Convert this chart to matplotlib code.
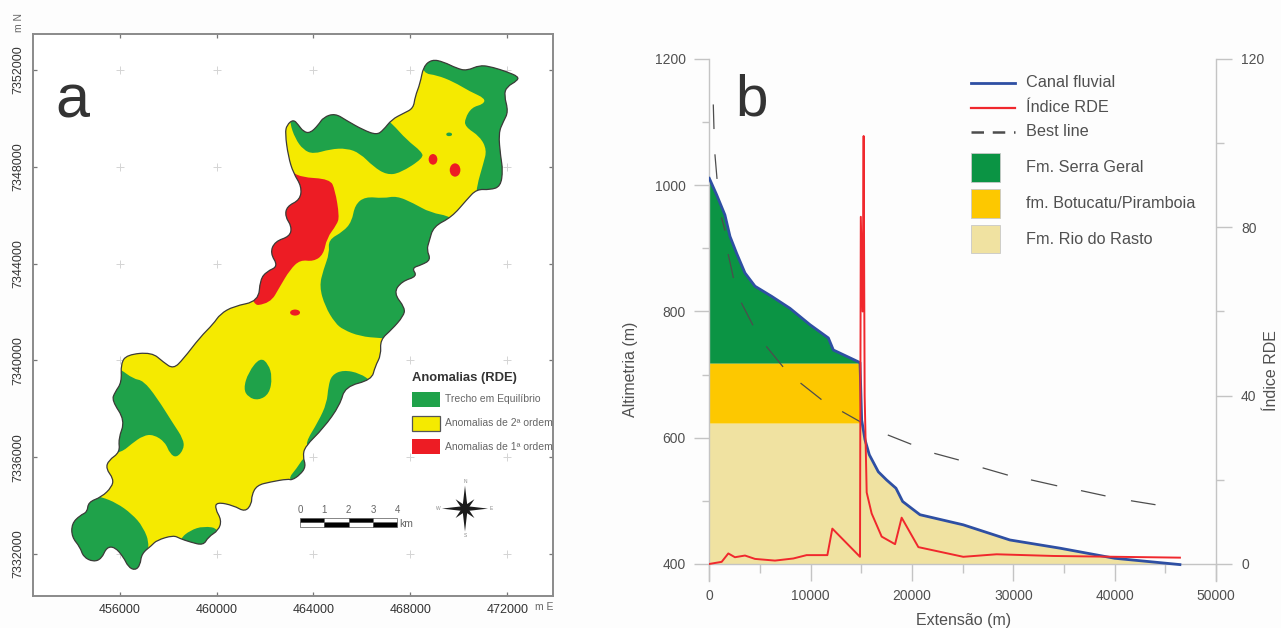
#!/usr/bin/env python3
"""Map of RDE anomalies (a) and longitudinal river profile with RDE index (b)."""

import numpy as np
import matplotlib
matplotlib.use('Agg')
import matplotlib.pyplot as plt
from matplotlib.patches import Ellipse, PathPatch, Rectangle
from matplotlib.path import Path

plt.rcParams['font.family'] = ['Liberation Sans', 'DejaVu Sans']

# ---- panel a, map coordinates in km (easting, northing)
east_ticks = [456, 460, 464, 468, 472]
north_ticks = [7332, 7336, 7340, 7344, 7348, 7352]

basin = [
  (462.90, 7349.73), (463.17, 7349.96), (463.38, 7349.73), (463.58, 7349.46), (463.86, 7349.39),
  (464.20, 7349.73), (464.41, 7350.05), (464.89, 7350.21), (465.37, 7349.91), (466.06, 7349.52),
  (466.61, 7349.32), (466.88, 7349.52), (467.23, 7349.96), (467.71, 7350.21), (468.12, 7350.42),
  (468.19, 7350.90), (468.40, 7351.45), (468.53, 7352.14), (468.88, 7352.44), (469.36, 7352.34),
  (469.91, 7352.07), (470.32, 7351.97), (470.87, 7352.21), (471.42, 7352.11), (471.97, 7351.93),
  (472.45, 7351.73), (472.41, 7351.56), (471.97, 7351.31), (471.86, 7350.97), (472.04, 7350.28),
  (471.83, 7349.87), (471.63, 7349.39), (471.72, 7348.42), (471.81, 7347.87), (471.72, 7347.19),
  (471.28, 7347.05), (470.73, 7347.08), (470.32, 7346.64), (469.70, 7345.92), (468.95, 7345.54),
  (468.77, 7344.92), (468.67, 7344.57), (468.84, 7344.16), (468.46, 7343.95), (468.05, 7343.82),
  (468.29, 7343.48), (467.64, 7343.27), (467.30, 7342.79), (467.78, 7342.17), (467.71, 7341.83),
  (467.23, 7341.28), (466.75, 7340.85), (466.79, 7340.23), (466.54, 7339.75), (466.40, 7339.20),
  (465.30, 7338.92), (465.10, 7338.17), (464.41, 7337.20), (463.65, 7336.45), (463.56, 7336.03),
  (463.69, 7335.62), (463.45, 7335.28), (463.10, 7335.05), (462.96, 7335.11), (462.21, 7334.98),
  (461.66, 7334.84), (461.45, 7334.43), (461.45, 7334.08), (461.18, 7333.74), (460.70, 7334.01),
  (460.01, 7334.15), (459.94, 7333.88), (460.21, 7333.40), (460.08, 7332.98), (459.66, 7332.71),
  (459.46, 7332.36), (458.91, 7332.50), (458.50, 7332.64), (458.22, 7332.78), (457.53, 7332.57),
  (457.33, 7332.36), (456.91, 7332.02), (456.85, 7331.54), (456.64, 7331.33), (456.36, 7331.47),
  (456.16, 7331.88), (455.81, 7332.29), (455.47, 7332.29), (455.26, 7331.81), (454.92, 7331.68),
  (454.51, 7331.88), (454.37, 7332.29), (454.03, 7332.71), (454.03, 7333.26), (454.37, 7333.60),
  (454.67, 7333.74), (454.71, 7334.15), (455.26, 7334.36), (455.68, 7334.77), (455.75, 7335.11),
  (455.44, 7335.53), (455.54, 7335.87), (456.02, 7336.21), (455.95, 7336.76), (456.23, 7337.52),
  (455.68, 7338.35), (455.81, 7338.69), (456.09, 7339.10), (456.05, 7339.86), (456.30, 7340.24),
  (457.33, 7340.34), (457.81, 7339.93), (458.22, 7339.65), (458.63, 7340.06), (459.32, 7340.96),
  (459.87, 7341.51), (460.15, 7341.92), (460.70, 7342.24), (461.73, 7342.45), (461.80, 7343.34),
  (462.07, 7343.68), (462.55, 7343.89), (462.21, 7344.44), (462.41, 7344.92), (463.03, 7345.13),
  (463.10, 7345.54), (462.83, 7345.95), (462.90, 7346.37), (463.45, 7346.64), (463.51, 7347.19),
  (463.17, 7347.74), (462.96, 7348.43), (462.83, 7349.39),
]

green_north_arm = [
  (463.03, 7349.80), (463.24, 7349.18), (463.58, 7348.70), (464.00, 7348.53), (464.68, 7348.73),
  (465.37, 7348.77), (465.92, 7348.56), (466.47, 7348.01), (467.02, 7347.67), (467.57, 7347.74),
  (468.53, 7348.36), (468.46, 7348.63), (467.85, 7349.11), (467.23, 7349.80), (466.88, 7350.07),
  (464.41, 7350.49), (463.03, 7350.21),
]
green_head = [
  (468.53, 7351.86), (469.08, 7351.79), (469.77, 7351.52), (470.46, 7351.11), (471.08, 7350.83),
  (471.01, 7350.59), (470.53, 7350.46), (470.25, 7350.00), (470.25, 7349.66), (470.87, 7349.25),
  (471.15, 7348.70), (471.01, 7348.15), (470.73, 7347.18), (470.73, 7346.77), (472.24, 7346.77),
  (472.79, 7349.52), (472.79, 7352.27), (468.81, 7352.82), (468.40, 7352.55),
]
green_central = [
  (465.71, 7346.43), (466.13, 7346.77), (466.88, 7346.70), (467.43, 7346.80), (468.12, 7346.50),
  (468.81, 7346.11), (469.70, 7345.95), (470.05, 7345.40), (469.77, 7342.65), (468.12, 7340.86),
  (466.75, 7340.92), (465.92, 7341.00), (465.23, 7341.27), (464.89, 7341.55), (464.48, 7342.23),
  (464.24, 7343.06), (464.41, 7343.75), (464.66, 7344.44), (464.61, 7344.98), (465.23, 7345.33),
  (465.58, 7345.74),
]
green_east = [
  (466.40, 7339.13), (465.92, 7339.47), (465.23, 7339.61), (464.75, 7339.40), (464.61, 7338.92),
  (464.55, 7338.24), (464.20, 7337.48), (463.65, 7336.58), (463.86, 7336.31), (465.65, 7338.10),
  (466.61, 7338.92),
]
green_east_small = [
  (463.58, 7335.97), (463.31, 7335.55), (462.92, 7335.07), (463.45, 7334.87), (464.00, 7335.62),
  (463.79, 7336.10),
]
green_west = [
  (456.02, 7339.65), (456.57, 7339.24), (456.98, 7339.17), (457.53, 7338.48), (458.22, 7337.38),
  (458.63, 7336.76), (458.66, 7336.35), (458.36, 7335.98), (458.08, 7336.14), (457.88, 7336.63),
  (457.40, 7336.94), (456.98, 7336.90), (456.50, 7336.56), (456.09, 7336.21), (455.20, 7336.01),
  (455.20, 7339.17), (455.75, 7339.72),
]
green_mouth = [
  (455.26, 7334.36), (455.88, 7334.11), (456.50, 7333.67), (456.98, 7333.12), (457.26, 7332.36),
  (456.98, 7331.06), (453.82, 7331.06), (453.68, 7333.67), (454.64, 7334.49),
]
green_south = [
  (458.50, 7332.64), (458.91, 7332.98), (459.46, 7333.16), (460.15, 7333.05), (460.01, 7332.16),
  (458.50, 7332.16),
]
green_island = [
  (461.80, 7340.13), (462.14, 7339.86), (462.30, 7339.31), (462.18, 7338.62), (461.73, 7338.35),
  (461.31, 7338.48), (461.11, 7338.83), (461.31, 7339.51),
]
green_tiny = [(469.43, 7349.34), (469.59, 7349.45), (469.77, 7349.34), (469.59, 7349.24)]
green_areas = [green_north_arm, green_head, green_central, green_east, green_east_small,
               green_west, green_mouth, green_south, green_island, green_tiny]

red_main = [
  (463.03, 7347.87), (463.45, 7347.57), (464.68, 7347.50), (464.89, 7347.05), (465.07, 7345.95),
  (464.96, 7345.61), (464.55, 7345.06), (464.41, 7344.37), (464.00, 7344.09), (463.45, 7344.16),
  (463.03, 7343.75), (462.62, 7343.06), (462.21, 7342.35), (461.25, 7342.24), (461.25, 7348.02),
  (462.90, 7348.29),
]
red_spot_e = [468.93, 469.84, 463.24]
red_spot_n = [7348.31, 7347.87, 7341.98]
red_spot_w = [0.36, 0.44, 0.41]
red_spot_h = [0.44, 0.55, 0.25]

scale_km = [0, 1, 2, 3, 4]

map_legend_labels = ['Trecho em Equilíbrio', 'Anomalias de 2ª ordem', 'Anomalias de 1ª ordem']

# ---- panel b
canal_x = [0, 720, 1540, 2040, 2700, 3520, 4510, 6150, 7960, 9940, 11750, 12240, 14870, 15035,
           15360, 15790, 16680, 17500, 18420, 19080, 19970, 20790, 25060, 29660, 34600, 40000, 46440]
canal_y = [1011, 985, 953, 919, 892, 861, 840, 824, 805, 779, 758, 739, 719, 628,
           597, 573, 546, 533, 520, 499, 488, 478, 462, 438, 425, 409, 399]

rde_x = [0, 1220, 1875, 2530, 3520, 4510, 6480, 8290, 9600, 11650, 12140, 14870, 14950, 15130,
         15230, 15330, 15530, 16020, 17010, 18330, 18980, 20630, 25060, 28350, 33940, 46440]
rde_y = [0, 0.5, 2.5, 1.6, 2, 1.2, 0.8, 1.3, 2.1, 2.1, 8.4, 1.7, 82.5, 60,
         101.7, 40, 17, 12, 6.5, 4.7, 11, 4, 1.7, 2.3, 1.9, 1.5]

# visible dashes of the best line, nan marks a gap
best_x = [395, 460, np.nan, 560, 757, np.nan, 1217, 1540, np.nan, 1875, 2370, np.nan, 3190, 4280, np.nan,
          5660, 7240, np.nan, 9050, 11020, np.nan, 13160, 15035, np.nan, 17670, 19870, np.nan,
          22260, 24560, np.nan, 27030, 29400, np.nan, 31800, 34270, np.nan, 36740, 39040, np.nan, 41670, 43970]
best_y = [1127, 1090, np.nan, 1048, 1011, np.nan, 948, 929, np.nan, 890, 854, np.nan, 813, 779, np.nan,
          744, 713, np.nan, 686, 661, np.nan, 641, 624, np.nan, 604, 590, np.nan,
          575, 565, np.nan, 552, 541, np.nan, 533, 524, np.nan, 516, 508, np.nan, 500, 494]

serra_geral_base = 718
botucatu_base = 623
profile_base = 400

GREEN_MAP = '#1fa24a'
YELLOW_MAP = '#f5ea00'
RED_MAP = '#ed1c24'
GREEN_GEO = '#0b9444'
ORANGE_GEO = '#fdc800'
TAN_GEO = '#f0e2a1'
BLUE = '#2e4fa3'
RED = '#f0282d'
TEXT = '#505050'
AXIS = '#c4c4c4'

W, H = 1281, 628


def fx(px):
  return px / W


def fy(py):
  return 1 - py / H


def smooth_path(points):
  # closed quadratic curve through the midpoints, map outlines are rounded
  pts = np.array(points)
  mids = (pts + np.roll(pts, -1, axis=0)) / 2
  verts = [mids[-1]]
  codes = [Path.MOVETO]
  for p, m in zip(pts, mids):
    verts += [p, m]
    codes += [Path.CURVE3, Path.CURVE3]
  return Path(np.array(verts), codes)


def draw_map(fig):
  ax = fig.add_axes([fx(33), fy(595.5), (553 - 33) / W, (595.5 - 33.5) / H])
  ax.set_xlim(452.43, 473.88)
  ax.set_ylim(7330.29, 7353.51)
  for s in ax.spines.values():
    s.set_color('#8a8a8a')
    s.set_linewidth(1.4)
  ax.set_xticks(east_ticks)
  ax.set_xticklabels([str(e * 1000) for e in east_ticks], fontsize=9, color='#333333')
  ax.set_yticks(north_ticks)
  ax.set_yticklabels([str(n * 1000) for n in north_ticks], fontsize=9, color='#333333',
                     rotation=90, va='center')
  ax.tick_params(direction='in', length=3, width=0.9, color='#777777', top=True, right=True)
  ax.tick_params(axis='x', pad=6)
  ax.tick_params(axis='y', pad=6)

  ee, nn = np.meshgrid(east_ticks, north_ticks)
  ax.plot(ee.ravel(), nn.ravel(), '+', color='#d4d4d4', ms=5.5, mew=0.7, zorder=1)

  clip = PathPatch(smooth_path(basin), facecolor=YELLOW_MAP, edgecolor='none', zorder=2)
  ax.add_patch(clip)
  for area in green_areas:
    patch = PathPatch(smooth_path(area), facecolor=GREEN_MAP, edgecolor='none', zorder=3)
    ax.add_patch(patch)
    patch.set_clip_path(clip)
  patch = PathPatch(smooth_path(red_main), facecolor=RED_MAP, edgecolor='none', zorder=3)
  ax.add_patch(patch)
  patch.set_clip_path(clip)
  for e, n, w, h in zip(red_spot_e, red_spot_n, red_spot_w, red_spot_h):
    ax.add_patch(Ellipse((e, n), w, h, facecolor=RED_MAP, edgecolor='none', zorder=4))
  ax.add_patch(PathPatch(smooth_path(basin), facecolor='none', edgecolor='#3a3a3a', lw=0.9, zorder=5))

  # scale bar
  x0, y0, half = 463.45, 7333.11, 0.2
  for i in scale_km[:-1]:
    low_black = i % 2 == 1
    ax.add_patch(Rectangle((x0 + i, y0), 1, half, fc='black' if low_black else 'white', ec='#555555', lw=0.5, zorder=6))
    ax.add_patch(Rectangle((x0 + i, y0 + half), 1, half, fc='white' if low_black else 'black', ec='#555555', lw=0.5, zorder=6))
  for km in scale_km:
    ax.text(x0 + km, y0 + 2 * half + 0.12, str(km), fontsize=7, color='#666666', ha='center', va='bottom')
  ax.text(x0 + 4.07, y0 + 0.15, 'km', fontsize=7.5, color='#666666', ha='left', va='center')

  # compass rose
  ce, cn = 470.25, 7333.88
  for k in range(8):
    angle = k * np.pi / 4
    length = 0.95 if k % 2 == 0 else 0.55
    tip = np.array([np.cos(angle), np.sin(angle)]) * length
    side = np.array([-np.sin(angle), np.cos(angle)]) * 0.11
    ax.fill([ce + side[0], ce + tip[0], ce - side[0]], [cn + side[1], cn + tip[1], cn - side[1]],
            color='#1c1c1c', lw=0, zorder=6)
  for label, de, dn in [('N', 0, 1.1), ('S', 0, -1.1), ('E', 1.1, 0), ('W', -1.1, 0)]:
    ax.text(ce + de, cn + dn, label, fontsize=3.5, color='#888888', ha='center', va='center')

  fig.text(fx(72.5), fy(117), 'a', fontsize=44, color='#333333', ha='center', va='baseline')
  fig.text(fx(535), fy(607), 'm E', fontsize=7.5, color='#666666', ha='left', va='center')
  fig.text(fx(19.5), fy(22), 'm N', fontsize=7.5, color='#666666', rotation=90, ha='center', va='center')

  # legend of the map
  fig.text(fx(412), fy(378), 'Anomalias (RDE)', fontsize=9.4, fontweight='bold', color='#333333', ha='left', va='center')
  swatches = [(392, GREEN_MAP, 'none'), (416, YELLOW_MAP, '#555555'), (439, RED_MAP, 'none')]
  for (top, fc, ec), label in zip(swatches, map_legend_labels):
    fig.add_artist(Rectangle((fx(412), fy(top + 14.5)), 28 / W, 14.5 / H, transform=fig.transFigure,
                             facecolor=fc, edgecolor=ec, lw=0.9))
    fig.text(fx(445), fy(top + 7.5), label, fontsize=7.5, color='#666666', ha='left', va='center')


def draw_profile(fig):
  ax = fig.add_axes([fx(709.3), fy(581), (1216 - 709.3) / W, (581 - 59) / H])
  ax.set_facecolor('none')
  ax.set_xlim(0, 50000)
  ax.set_ylim(373, 1200)
  for side in ['top', 'right']:
    ax.spines[side].set_visible(False)
  ax.spines['bottom'].set_position(('data', 400))
  for side in ['left', 'bottom']:
    ax.spines[side].set_color(AXIS)
    ax.spines[side].set_linewidth(1.0)

  x = np.array(canal_x, dtype=float)
  y = np.array(canal_y, dtype=float)
  ax.fill_between(x, serra_geral_base, y, where=y >= serra_geral_base, color=GREEN_GEO, lw=0, interpolate=True)
  ax.fill_between(x, botucatu_base, np.minimum(y, serra_geral_base), where=y >= botucatu_base,
                  color=ORANGE_GEO, lw=0, interpolate=True)
  ax.fill_between(x, profile_base, np.minimum(y, botucatu_base), where=y >= profile_base,
                  color=TAN_GEO, lw=0, interpolate=True)
  ax.plot(best_x, best_y, color='#4d4d4d', lw=0.9, zorder=3)
  ax.plot(canal_x, canal_y, color=BLUE, lw=2.0, zorder=4)

  ax.set_xticks(range(0, 50001, 10000))
  ax.set_xticks(range(5000, 50000, 10000), minor=True)
  ax.set_yticks(range(400, 1201, 200))
  ax.set_yticks(range(500, 1200, 200), minor=True)
  ax.tick_params(axis='x', which='major', length=12.2, width=1.0, color=AXIS, labelcolor=TEXT, labelsize=10, pad=6)
  ax.tick_params(axis='x', which='minor', length=6.5, width=1.0, color=AXIS)
  ax.tick_params(axis='y', which='major', length=10.8, width=1.0, color=AXIS, labelcolor=TEXT, labelsize=10, pad=6)
  ax.tick_params(axis='y', which='minor', length=5.4, width=1.0, color=AXIS)

  ax2 = ax.twinx()
  ax2.set_facecolor('none')
  ax2.set_ylim((373 - 400) * 120 / 800, 120)
  for side in ['top', 'left', 'bottom']:
    ax2.spines[side].set_visible(False)
  ax2.spines['right'].set_color(AXIS)
  ax2.spines['right'].set_linewidth(1.0)
  ax2.set_yticks(range(0, 121, 40))
  ax2.set_yticks(range(20, 120, 40), minor=True)
  ax2.tick_params(axis='y', which='major', length=11.5, width=1.0, color=AXIS, labelcolor=TEXT, labelsize=10, pad=6.5)
  ax2.tick_params(axis='y', which='minor', length=5.8, width=1.0, color=AXIS)
  ax2.plot(rde_x, rde_y, color=RED, lw=1.4, zorder=5)

  fig.text(fx(630), fy(369), 'Altimetria (m)', fontsize=11.5, color=TEXT, rotation=90, ha='center', va='center')
  fig.text(fx(1271.5), fy(371), 'Índice RDE', fontsize=11.5, color=TEXT, rotation=90, ha='center', va='center')
  fig.text(fx(964), fy(621), 'Extensão (m)', fontsize=11.5, color=TEXT, ha='center', va='center')
  fig.text(fx(735), fy(116), 'b', fontsize=42, color='#333333', ha='left', va='baseline')

  # legend of the profile
  for py, color, lw, ls, label in [(82.5, BLUE, 2.0, '-', 'Canal fluvial'),
                                   (107.5, RED, 1.6, '-', 'Índice RDE'),
                                   (131.5, '#4d4d4d', 1.8, (0, (5, 3.5)), 'Best line')]:
    fig.add_artist(plt.Line2D([fx(971.5), fx(1015)], [fy(py), fy(py)], color=color, lw=lw, ls=ls))
    fig.text(fx(1026), fy(py), label, fontsize=11.7, color=TEXT, ha='left', va='center')
  for top, bottom, color, label in [(152.7, 181.7, GREEN_GEO, 'Fm. Serra Geral'),
                                    (189, 217.7, ORANGE_GEO, 'fm. Botucatu/Piramboia'),
                                    (225, 253, TAN_GEO, 'Fm. Rio do Rasto')]:
    fig.add_artist(Rectangle((fx(970.7), fy(bottom)), 29.6 / W, (bottom - top) / H, transform=fig.transFigure,
                             facecolor=color, edgecolor='#c8c8c8', lw=0.6))
    fig.text(fx(1026), fy((top + bottom) / 2), label, fontsize=11.7, color=TEXT, ha='left', va='center')


def main():
  fig = plt.figure(figsize=(W / 100, H / 100), dpi=100, facecolor='#fdfdfd')
  draw_map(fig)
  draw_profile(fig)
  fig.savefig('out.png', dpi=100, facecolor=fig.get_facecolor())


if __name__ == "__main__":
  main()
